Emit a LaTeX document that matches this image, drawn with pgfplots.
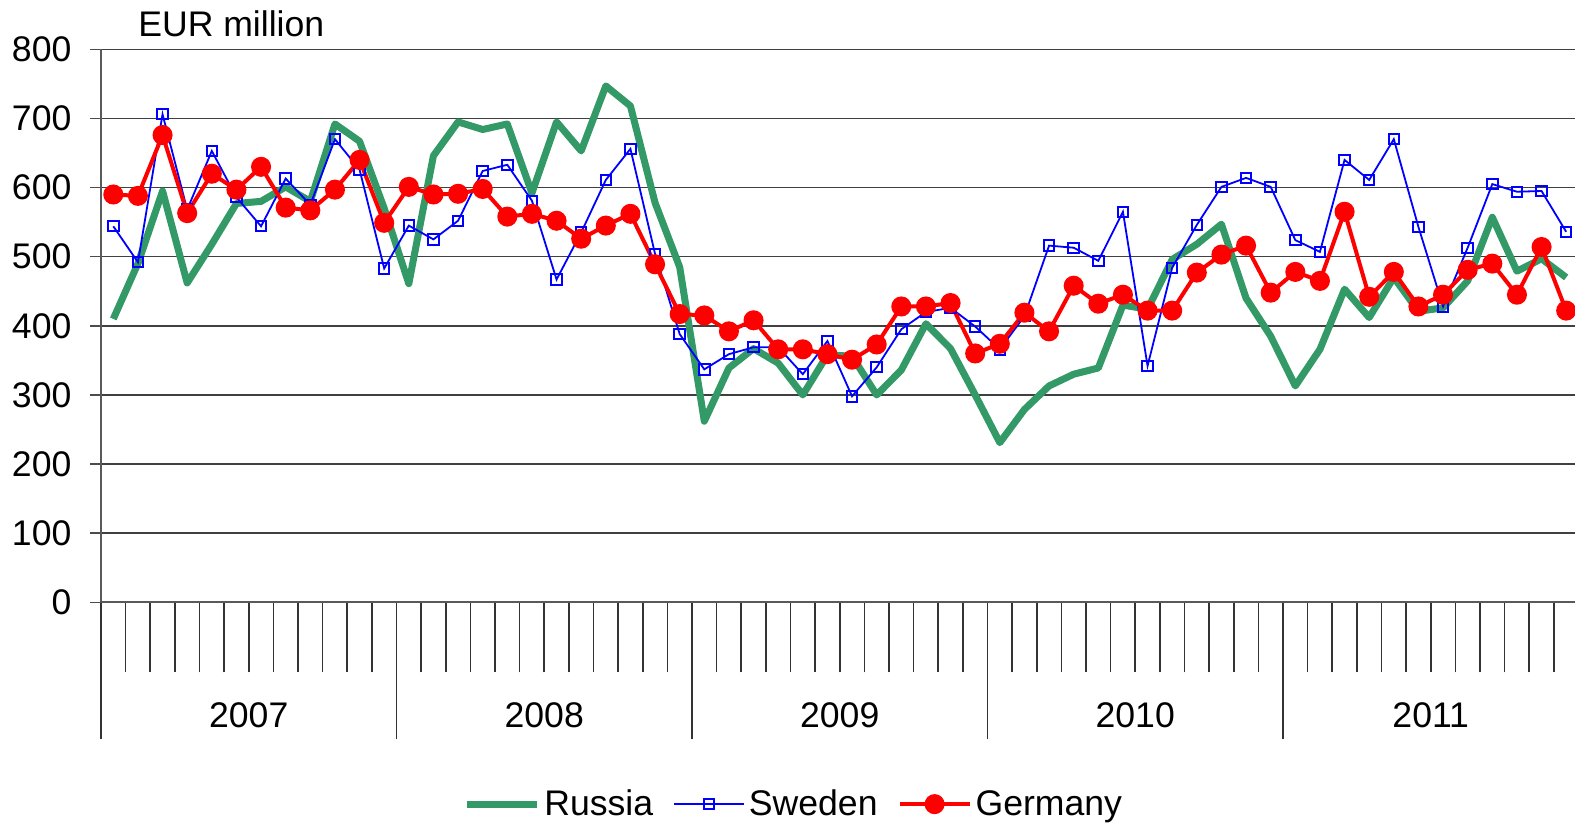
\documentclass[border=0pt]{standalone}
\usepackage{pgfplots}
\pgfplotsset{compat=1.18}
\usepackage{fontspec}
\setmainfont{Liberation Sans}
\definecolor{rus}{RGB}{51,153,102}
\tikzset{year/.style={anchor=center, font=\fontsize{17.8}{20}\selectfont, inner sep=0pt, yshift=-56.7pt}}
\pgfplotstableread{
x rus swe ger
0.5 410 544 590
1.5 490 492 588
2.5 595 706 676
3.5 462 568 563
4.5 518 653 620
5.5 577 586 597
6.5 580 544 630
7.5 601 613 571
8.5 580 575 567
9.5 692 670 597
10.5 667 626 640
11.5 570 483 549
12.5 461 545 601
13.5 646 525 590
14.5 695 552 591
15.5 684 624 598
16.5 692 633 558
17.5 592 581 562
18.5 695 467 552
19.5 653 535 526
20.5 747 611 545
21.5 718 656 562
22.5 578 504 489
23.5 485 388 417
24.5 262 337 415
25.5 339 359 392
26.5 367 369 408
27.5 346 369 366
28.5 300 330 366
29.5 358 378 359
30.5 356 298 351
31.5 300 340 373
32.5 336 395 428
33.5 403 420 428
34.5 367 426 433
35.5 300 399 360
36.5 231 366 374
37.5 279 414 419
38.5 313 516 392
39.5 330 513 458
40.5 339 494 432
41.5 430 565 445
42.5 424 342 422
43.5 496 484 422
44.5 518 546 477
45.5 547 601 503
46.5 440 614 516
47.5 385 601 448
48.5 313 524 478
49.5 366 507 465
50.5 453 640 565
51.5 412 611 442
52.5 470 670 478
53.5 421 543 428
54.5 426 428 445
55.5 465 513 481
56.5 557 605 490
57.5 479 594 445
58.5 497 595 514
59.5 470 536 422
}\datatable
\begin{document}
\begin{tikzpicture}
\path[use as bounding box] (-50.5pt,-111.85pt) rectangle (737pt,301.15pt);
\begin{axis}[
  at={(0,0)}, anchor=south west,
  scale only axis, width=738.75pt, height=276.5pt,
  xmin=0, xmax=60, ymin=0, ymax=800,
  clip=false,
  axis lines=left,
  axis line style={-, draw=black!65, line width=1pt},
  tick align=outside,
  ytick={0,100,...,800},
  ymajorgrids,
  grid style={black!75, line width=0.7pt},
  y tick style={draw=black!70, line width=0.8pt, /pgfplots/major tick length=5.5pt},
  xtick={0,12,...,60},
  xticklabels={},
  minor xtick={1,...,59},
  x tick style={draw=black!80, line width=0.8pt, /pgfplots/major tick length=68.5pt, /pgfplots/minor tick length=35pt},
  /pgf/number format/assume math mode=true,
  ticklabel style={font=\fontsize{17.8}{20}\selectfont},
  yticklabel style={anchor=east, xshift=-7pt},
  legend style={at={(0.4695,-0.365)}, anchor=center, draw=none, legend columns=3,
    font=\fontsize{17.8}{20}\selectfont, inner sep=0pt,
    nodes={inner sep=2pt},
    /tikz/every even column/.append style={column sep=8pt}},
  legend image code/.code={\draw[mark repeat=2,mark phase=2,#1] plot coordinates {(0pt,0pt) (17.5pt,0pt) (35pt,0pt)};},
]
\addplot[rus, line width=3.5pt, line join=round, no markers] table[x=x,y=rus] {\datatable};
\addlegendentry{Russia}
\addplot[blue, line width=0.9pt, mark=square, mark size=2.6pt, mark options={solid, line width=1pt}] table[x=x,y=swe] {\datatable};
\addlegendentry{Sweden}
\addplot[red, line width=2pt, mark=*, mark size=4pt] table[x=x,y=ger] {\datatable};
\addlegendentry{Germany}
\node[anchor=west, font=\fontsize{17.8}{20}\selectfont, inner sep=0pt] at (rel axis cs:0.025,1.0458) {EUR million};
\node[year] at (axis cs:6,0) {2007};
\node[year] at (axis cs:18,0) {2008};
\node[year] at (axis cs:30,0) {2009};
\node[year] at (axis cs:42,0) {2010};
\node[year] at (axis cs:54,0) {2011};
\end{axis}
\end{tikzpicture}
\end{document}
